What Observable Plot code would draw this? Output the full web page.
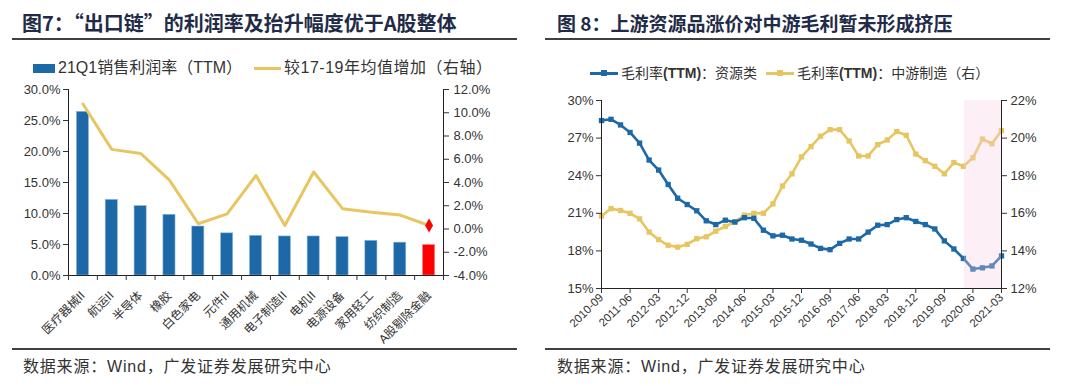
<!DOCTYPE html>
<html><head><meta charset="utf-8">
<script src="https://cdn.jsdelivr.net/npm/d3@7"></script>
<script src="https://cdn.jsdelivr.net/npm/@observablehq/plot@0.6"></script>
<style>
body{margin:0;background:#fff;width:1080px;height:386px;overflow:hidden;font-family:"Liberation Sans","Noto Sans CJK SC",sans-serif;}
#root{position:relative;width:1080px;height:386px;}
.abs{position:absolute;}
.title{font-weight:bold;color:#1f2b47;font-family:"Noto Sans CJK SC";white-space:nowrap;line-height:24px}
.rule{position:absolute;height:0;border-top:2px solid #404040}
.src{font-size:16px;letter-spacing:0.8px;color:#333;white-space:nowrap;font-family:"Liberation Sans","Noto Sans CJK SC";line-height:20px}
.legend{color:#333;white-space:nowrap;display:flex;align-items:center;font-family:"Liberation Sans","Noto Sans CJK SC";line-height:20px}
.sw{display:inline-block;margin-right:3px}
</style></head>
<body><div id="root">
<div class="abs title" style="left:22px;top:11px;font-size:20px">图7：“出口链”的利润率及抬升幅度优于A股整体</div>
<div class="rule" style="left:12px;top:38px;width:505px"></div>
<div class="abs legend" id="leg1" style="left:33px;top:58px;font-size:16px"></div>
<div class="abs" id="chart1" style="left:0;top:80px"></div>
<div class="rule" style="left:12px;top:348px;width:505px"></div>
<div class="abs src" style="left:23px;top:357px">数据来源：Wind，广发证券发展研究中心</div>

<div class="abs title" style="left:557px;top:11px;font-size:19px">图 8：上游资源品涨价对中游毛利暂未形成挤压</div>
<div class="rule" style="left:545px;top:38px;width:505px"></div>
<div class="abs legend" id="leg2" style="left:590px;top:63px;font-size:14px"></div>
<div class="abs" id="chart2" style="left:540px;top:85px"></div>
<div class="rule" style="left:545px;top:348px;width:505px"></div>
<div class="abs src" style="left:557px;top:357px">数据来源：Wind，广发证券发展研究中心</div>
</div>
<script>
// ---------- Chart 1 data ----------
const industries = ["医疗器械II","航运II","半导体","橡胶","白色家电","元件II","通用机械","电子制造II","电机II","电源设备","家用轻工","纺织制造","A股剔除金融"];
const profitMargin = [26.4, 12.2, 11.2, 9.8, 7.9, 6.8, 6.4, 6.3, 6.3, 6.2, 5.6, 5.3, 4.9];
const increaseVs1719 = [10.75, 6.85, 6.5, 4.2, 0.45, 1.3, 4.6, 0.3, 4.9, 1.75, 1.45, 1.2, 0.3];
const highlightCategory = "A股剔除金融";
const leftTicks1 = [0, 5, 10, 15, 20, 25, 30];
const rightTicks1 = [-4, -2, 0, 2, 4, 6, 8, 10, 12];
const seriesNames1 = ["21Q1销售利润率（TTM）", "较17-19年均值增加（右轴）"];

// ---------- Chart 2 data ----------
const quarterLabels = ["2010-09","2010-12","2011-03","2011-06","2011-09","2011-12","2012-03","2012-06","2012-09","2012-12",
 "2013-03","2013-06","2013-09","2013-12","2014-03","2014-06","2014-09","2014-12","2015-03","2015-06",
 "2015-09","2015-12","2016-03","2016-06","2016-09","2016-12","2017-03","2017-06","2017-09","2017-12",
 "2018-03","2018-06","2018-09","2018-12","2019-03","2019-06","2019-09","2019-12","2020-03","2020-06",
 "2020-09","2020-12","2021-03"];
const resourceMargin = [28.4, 28.5, 28.05, 27.45, 26.6, 25.25, 24.45, 23.3, 22.2, 21.7,
 21.2, 20.4, 20.1, 20.45, 20.3, 20.65, 20.6, 19.65, 19.2, 19.25,
 18.95, 18.85, 18.55, 18.2, 18.1, 18.6, 18.95, 18.95, 19.5, 20.05,
 20.1, 20.5, 20.65, 20.35, 20.1, 19.75, 18.8, 18.15, 17.4, 16.55,
 16.65, 16.8, 17.6];
const midstreamMargin = [15.85, 16.25, 16.15, 16.0, 15.7, 15.0, 14.6, 14.3, 14.2, 14.35,
 14.65, 14.75, 15.05, 15.3, 15.55, 15.9, 16.0, 16.0, 16.5, 17.45,
 18.1, 19.0, 19.55, 20.1, 20.45, 20.45, 19.85, 19.05, 19.05, 19.65,
 19.9, 20.35, 20.15, 19.15, 18.8, 18.5, 18.1, 18.7, 18.5, 18.95,
 19.95, 19.7, 20.4];
const tickLabels2 = ["2010-09","2011-06","2012-03","2012-12","2013-09","2014-06","2015-03","2015-12","2016-09","2017-06","2018-03","2018-12","2019-09","2020-06","2021-03"];
const leftTicks2 = [15, 18, 21, 24, 27, 30];
const rightTicks2 = [12, 14, 16, 18, 20, 22];
const shadedPeriod = ["2020-03", "2021-03"];
const seriesNames2 = ["毛利率<b>(TTM)</b>：资源类", "毛利率<b>(TTM)</b>：中游制造（右）"];

const BLUE = "#1d69a7", GOLD = "#e7c662", RED = "#ff0000";
const axisStyle = {fontFamily: "'Liberation Sans','Noto Sans CJK SC',sans-serif", fontSize: "13px", color: "#333", background: "transparent"};

// ---------- Chart 1 ----------
{
  const L = [0, 30], R = [-4, 12];
  const toL = r => L[0] + (r - R[0]) * (L[1] - L[0]) / (R[1] - R[0]);
  const toR = l => R[0] + (l - L[0]) * (R[1] - R[0]) / (L[1] - L[0]);
  const data = industries.map((c, i) => ({i, c, v: profitMargin[i], r: increaseVs1719[i], hl: c === highlightCategory}));
  const bounds = d3.range(industries.length + 1).map(k => k - 0.5);
  const hw = 0.21;
  const chart = Plot.plot({
    width: 540, height: 270,
    marginTop: 9, marginBottom: 75, marginLeft: 68, marginRight: 97,
    style: axisStyle,
    x: {type: "linear", domain: [-0.5, industries.length - 0.5], label: null},
    y: {domain: L, label: null},
    marks: [
      Plot.rectY(data, {x1: d => d.i - hw, x2: d => d.i + hw, y: "v", fill: d => d.hl ? RED : BLUE, stroke: d => d.hl ? "#ff8080" : "#8fb8de", strokeWidth: 0.6}),
      Plot.line(data, {x: "i", y: d => toL(d.r), stroke: GOLD, strokeWidth: 3}),
      Plot.dot(data.filter(d => d.hl), {x: "i", y: d => toL(d.r), symbol: "diamond", r: 4.2, fill: RED}),
      Plot.ruleX([-0.5, industries.length - 0.5], {y1: L[0], y2: L[1], stroke: "#222", strokeWidth: 1}),
      Plot.ruleY([L[0]], {stroke: "#222", strokeWidth: 1}),
      Plot.axisY(leftTicks1, {anchor: "left", label: null, tickSize: 5, tickPadding: 3, tickFormat: d => d.toFixed(1) + "%"}),
      Plot.axisY(rightTicks1.map(toL), {anchor: "right", label: null, tickSize: 5, tickPadding: 5, tickFormat: l => toR(l).toFixed(1) + "%"}),
      Plot.axisX(bounds, {anchor: "bottom", label: null, tickSize: 5, tickFormat: () => ""}),
      Plot.axisX(d3.range(industries.length), {anchor: "bottom", label: null, tickSize: 0, tickPadding: 18, tickRotate: -45, tickFormat: i => industries[i], fontSize: 12})
    ]
  });
  document.getElementById("chart1").append(chart);
  const leg = document.getElementById("leg1");
  leg.innerHTML = `<span class="sw" style="width:22px;height:9px;background:${BLUE}"></span><span>${seriesNames1[0]}</span>` +
    `<span class="sw" style="width:27px;height:3px;background:${GOLD};margin-left:12px"></span><span style="letter-spacing:0.5px">${seriesNames1[1]}</span>`;
}

// ---------- Chart 2 ----------
{
  const L = [15, 30], R = [12, 22];
  const toL = r => L[0] + (r - R[0]) * (L[1] - L[0]) / (R[1] - R[0]);
  const toR = l => R[0] + (l - L[0]) * (R[1] - R[0]) / (L[1] - L[0]);
  const n = quarterLabels.length;
  const data = quarterLabels.map((q, i) => ({i, q, a: resourceMargin[i], b: midstreamMargin[i]}));
  const tickIdx = tickLabels2.map(t => quarterLabels.indexOf(t));
  const s0 = quarterLabels.indexOf(shadedPeriod[0]), s1 = quarterLabels.indexOf(shadedPeriod[1]);
  const chart = Plot.plot({
    width: 540, height: 265,
    marginTop: 15, marginBottom: 62, marginLeft: 61, marginRight: 79,
    style: axisStyle,
    x: {type: "linear", domain: [0, n - 1], label: null},
    y: {domain: L, label: null},
    marks: [
      Plot.line(data, {x: "i", y: d => toL(d.b), stroke: GOLD, strokeWidth: 2.6}),
      Plot.dot(data, {x: "i", y: d => toL(d.b), symbol: "square", r: 3, fill: GOLD}),
      Plot.line(data, {x: "i", y: "a", stroke: BLUE, strokeWidth: 2.6}),
      Plot.dot(data, {x: "i", y: "a", symbol: "square", r: 3, fill: BLUE}),
      Plot.rect([0], {x1: s0 + 0.1, x2: s1, y1: L[0], y2: L[1], fill: "#f8cde4", fillOpacity: 0.32}),
      Plot.ruleX([0, n - 1], {y1: L[0], y2: L[1], stroke: "#222", strokeWidth: 1}),
      Plot.ruleY([L[0]], {stroke: "#222", strokeWidth: 1}),
      Plot.axisY(leftTicks2, {anchor: "left", label: null, tickSize: 5, tickPadding: 3, tickFormat: d => d + "%"}),
      Plot.axisY(rightTicks2.map(toL), {anchor: "right", label: null, tickSize: 5, tickPadding: 4, tickFormat: l => Math.round(toR(l)) + "%"}),
      Plot.axisX(tickIdx, {anchor: "bottom", label: null, tickSize: 5, tickPadding: 2, tickRotate: -45, tickFormat: i => quarterLabels[i], fontSize: 11.5})
    ]
  });
  document.getElementById("chart2").append(chart);
  const mk = c => `<span style="position:relative;display:inline-block;width:28px;height:3px;background:${c};margin-right:3px"><span style="position:absolute;left:11px;top:-2px;width:6px;height:6px;background:${c}"></span></span>`;
  const leg = document.getElementById("leg2");
  leg.innerHTML = `${mk(BLUE)}<span>${seriesNames2[0]}</span><span style="display:inline-block;width:9px"></span>${mk(GOLD)}<span>${seriesNames2[1]}</span>`;
}
</script>
</body></html>
